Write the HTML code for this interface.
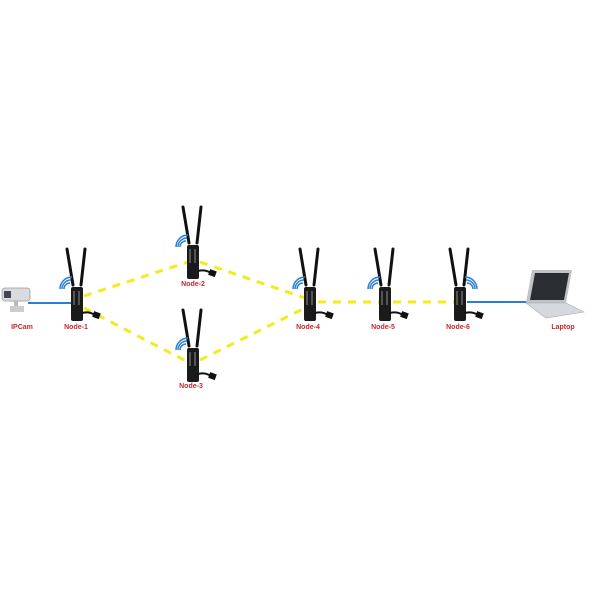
<!DOCTYPE html>
<html><head><style>body{margin:0;background:#fff}svg{display:block}</style></head>
<body>
<svg width="600" height="600" viewBox="0 0 600 600" xmlns="http://www.w3.org/2000/svg" font-family="Liberation Sans, sans-serif">
<defs>
<g id="body">
  <line x1="-4" y1="-2" x2="-10" y2="-38" stroke="#111" stroke-width="3" stroke-linecap="round"/>
  <line x1="4" y1="-2" x2="8" y2="-38" stroke="#111" stroke-width="3" stroke-linecap="round"/>
  <rect x="-6" y="0" width="12" height="34" rx="2" fill="#1a1a1a"/>
  <rect x="-4" y="4" width="2" height="14" fill="#555"/>
  <rect x="1" y="4" width="2" height="14" fill="#555"/>
  <path d="M5 26 Q12 24 18 28" stroke="#111" stroke-width="2" fill="none"/>
  <rect x="16" y="25" width="7" height="6" fill="#111" transform="rotate(20 19 28)"/>
</g>
<path id="wifi" d="M-13 2 a6 6 0 0 1 6 -6 M-15 2 a9 9 0 0 1 9 -9 M-17 2 a12 12 0 0 1 12 -12" stroke="#2a7fd4" stroke-width="1.5" fill="none"/>
<g id="dev">
  <use href="#body"/>
  <use href="#wifi"/>
</g>
</defs>
<g stroke="#f4ea1c" stroke-width="3" stroke-dasharray="8,7" fill="none">
  <line x1="84" y1="296" x2="188" y2="262"/>
  <line x1="84" y1="308" x2="188" y2="362"/>
  <line x1="200" y1="262" x2="305" y2="298"/>
  <line x1="200" y1="360" x2="305" y2="308"/>
  <line x1="318" y1="302" x2="455" y2="302"/>
</g>
<line x1="28" y1="303" x2="72" y2="303" stroke="#2a7fd4" stroke-width="2"/>
<line x1="467" y1="302" x2="530" y2="302" stroke="#2a7fd4" stroke-width="2"/>
<use href="#dev" x="77" y="287"/>
<use href="#dev" x="193" y="245"/>
<use href="#dev" x="193" y="348"/>
<use href="#dev" x="310" y="287"/>
<use href="#dev" x="385" y="287"/>
<use href="#body" x="460" y="287"/>
<g transform="translate(460 287) scale(-1 1)"><use href="#wifi"/></g>
<g>
  <rect x="2" y="288" width="28" height="13" rx="3" fill="#d8dce0" stroke="#999" stroke-width="0.8"/>
  <rect x="4" y="291" width="7" height="7" fill="#445"/>
  <rect x="14" y="301" width="4" height="6" fill="#bbb"/>
  <rect x="10" y="306" width="14" height="6" fill="#ccc"/>
</g>
<g>
  <polygon points="532,270 572,270 566,303 526,303" fill="#bfc3c7"/>
  <polygon points="535,273 569,273 564,300 530,300" fill="#2a2d31"/>
  <polygon points="526,303 566,303 584,312 546,318" fill="#d5d8dc" stroke="#aaa" stroke-width="0.6"/>
</g>
<g font-size="7" font-weight="bold" fill="#c8282d" text-anchor="middle">
  <text x="22" y="329">IPCam</text>
  <text x="76" y="329">Node-1</text>
  <text x="193" y="286">Node-2</text>
  <text x="191" y="388">Node-3</text>
  <text x="308" y="329">Node-4</text>
  <text x="383" y="329">Node-5</text>
  <text x="458" y="329">Node-6</text>
  <text x="563" y="329">Laptop</text>
</g>
</svg>
</body></html>
